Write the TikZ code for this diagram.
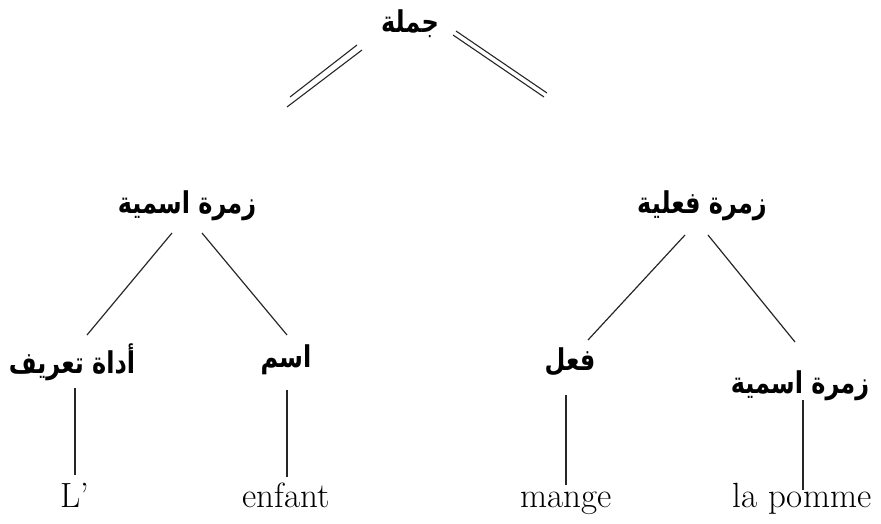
\documentclass[tikz,border=0pt]{standalone}
\usepackage{fontspec}
\usepackage{graphicx}
\TeXXeTstate=1
\newfontfamily\arabicfont[Script=Arabic]{DejaVu Sans}
\newcommand{\artxt}[1]{\scalebox{1}[1.25]{\beginR #1\endR}}
\tikzset{
  ar/.style={font=\arabicfont\bfseries\fontsize{24}{28}\selectfont, inner sep=0pt},
  fr/.style={font=\fontsize{35}{39}\selectfont, inner sep=0pt, anchor=base},
  edge/.style={line width=1.2pt, black!85},
  dbl/.style={line width=1.1pt, black!85}
}
\begin{document}
\begin{tikzpicture}[x=1pt,y=-1pt]
\useasboundingbox (0,0) rectangle (881,523);
% nodes
\node[ar] (root) at (410,24) {\artxt{جملة}};
\node[ar] (nsL) at (187,206) {\artxt{زمرة اسمية}};
\node[ar] (vs) at (702,206) {\artxt{زمرة فعلية}};
\node[ar] (art) at (72,362) {\artxt{أداة تعريف}};
\node[ar] (noun) at (286,360) {\artxt{اسم}};
\node[ar] (verb) at (570,362) {\artxt{فعل}};
\node[ar] (nsR) at (800,386) {\artxt{زمرة اسمية}};
\node[fr] (L) at (75,507) {L’};
\node[fr] (enf) at (286,507) {enfant};
\node[fr] (man) at (566,507) {mange};
\node[fr] (pom) at (802,507) {la pomme};
% double connectors from the root
\draw[dbl] ([shift={(-53,21)}]root.center) -- ([shift={(103,-109)}]nsL.center);
\draw[dbl] ([shift={(-48,26)}]root.center) -- ([shift={(100,-99)}]nsL.center);
\draw[dbl] ([shift={(46,7)}]root.center) -- ([shift={(-155,-113)}]vs.center);
\draw[dbl] ([shift={(43,11)}]root.center) -- ([shift={(-158,-109)}]vs.center);
% left subtree
\draw[edge] ([shift={(-15,27)}]nsL.center) -- ([shift={(15,-27)}]art.center);
\draw[edge] ([shift={(15,27)}]nsL.center) -- ([shift={(1,-25)}]noun.center);
\draw[edge] ([shift={(3,26)}]art.center) -- ([shift={(0,-32)}]L.base);
\draw[edge] ([shift={(1,30)}]noun.center) -- ([shift={(1,-30)}]enf.base);
% right subtree
\draw[edge] ([shift={(-17,29)}]vs.center) -- ([shift={(18,-22)}]verb.center);
\draw[edge] ([shift={(6,29)}]vs.center) -- ([shift={(-5,-44)}]nsR.center);
\draw[edge] ([shift={(-4,33)}]verb.center) -- ([shift={(0,-22)}]man.base);
\draw[edge] ([shift={(3,14)}]nsR.center) -- ([shift={(1,-17)}]pom.base);
\end{tikzpicture}
\end{document}
